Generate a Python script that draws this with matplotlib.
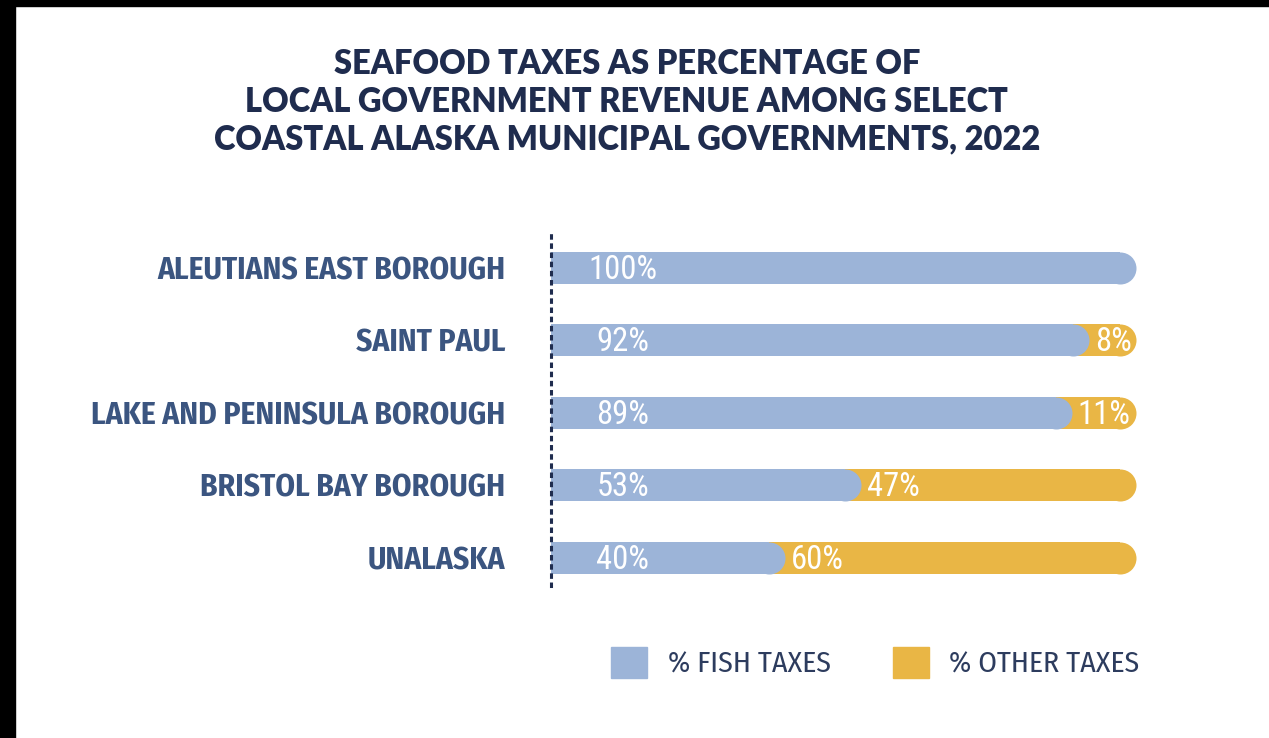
import matplotlib.pyplot as plt
from matplotlib.patches import Patch, Rectangle

# data
places = ['ALEUTIANS EAST BOROUGH', 'SAINT PAUL', 'LAKE AND PENINSULA BOROUGH',
          'BRISTOL BAY BOROUGH', 'UNALASKA']
fish = [100, 92, 89, 53, 40]
other = [0, 8, 11, 47, 60]

blue = '#9cb4d8'
gold = '#e9b645'
navy = '#3b5580'
dark = '#1f2c4e'

label_font = 'Fira Sans Condensed'
num_font = 'Roboto Condensed'

fig = plt.figure(figsize=(12.69, 7.38), dpi=100)
ax = fig.add_axes([551 / 1269, 1 - 586 / 738, 585 / 1269, 356 / 738])
ax.set_xlim(0, 100)
ax.set_ylim(4.39, -0.52)

bar_px = 32
r = (bar_px / 2) / (585 / 100)   # cap radius in data units
cap_s = (bar_px * 72 / 100) ** 2

for i, name in enumerate(places):
    tot = fish[i] + other[i]
    if other[i] > 0:
        ax.barh(i, tot - r, height=0.44, color=gold, zorder=1)
        ax.scatter([tot - r], [i], s=cap_s, color=gold, marker='o', linewidths=0, zorder=1)
    ax.barh(i, fish[i] - r, height=0.44, color=blue, zorder=2)
    ax.scatter([fish[i] - r], [i], s=cap_s, color=blue, marker='o', linewidths=0, zorder=2)
    ax.text(12.3, i + 0.03, f'{fish[i]}%', ha='center', va='center', color='white',
            fontsize=23.5, family=num_font, zorder=3)
    if other[i] > 0:
        ax.text(fish[i] + 1.0, i + 0.03, f'{other[i]}%', ha='left', va='center', color='white',
                fontsize=23.5, family=num_font, zorder=3)

ax.set_yticks(range(len(places)))
ax.set_yticklabels(places, fontsize=22.6, fontweight='bold', color=navy, family=label_font)
ax.tick_params(axis='y', length=0, pad=33)
ax.set_xticks([])
for s in ['top', 'right', 'bottom']:
    ax.spines[s].set_visible(False)
ax.spines['left'].set_linestyle((0, (0.8, 2.2)))
ax.spines['left'].set_linewidth(2.2)
ax.spines['left'].set_color(dark)

fig.text(0.494, 0.862,
         'SEAFOOD TAXES AS PERCENTAGE OF\nLOCAL GOVERNMENT REVENUE AMONG SELECT\nCOASTAL ALASKA MUNICIPAL GOVERNMENTS, 2022',
         ha='center', va='center', fontsize=23.5, fontweight='heavy', color=dark,
         family='Lato', linespacing=1.23)

handles = [Patch(color=blue, label='% FISH TAXES'), Patch(color=gold, label='% OTHER TAXES')]
leg = fig.legend(handles=handles, loc='center', bbox_to_anchor=(0.69, 0.1016), ncol=2,
                 frameon=False, prop={'family': label_font, 'size': 21.5},
                 handlelength=1.2, handleheight=1.2, handletextpad=0.68, columnspacing=2.1)
for t in leg.get_texts():
    t.set_color('#2d3c5e')

# black frame edges seen in the screenshot
fig.patches.append(Rectangle((0, 1 - 6 / 738), 1, 6 / 738, transform=fig.transFigure,
                             color='black', zorder=10))
fig.patches.append(Rectangle((0, 0), 15 / 1269, 1, transform=fig.transFigure,
                             color='black', zorder=10))

fig.savefig('out.png', dpi=100)
